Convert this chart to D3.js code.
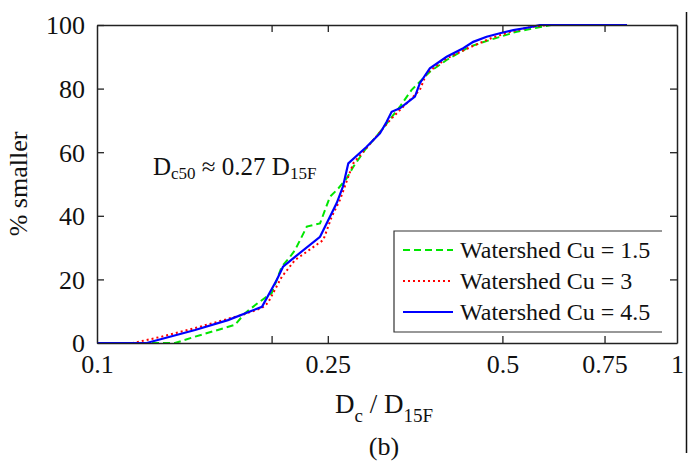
<!DOCTYPE html>
<html>
<head>
<meta charset="utf-8">
<script src="https://cdn.jsdelivr.net/npm/d3@7"></script>
<style>
  body { margin: 0; background: #fff; }
  svg { display: block; font-family: "Liberation Serif", "Times New Roman", serif; }
</style>
</head>
<body>
<div class="chart"></div>
<script>
// Size of the picture
let width = 699;
let height = 465;

// Plot box in pixels
let margin = { top: 25, right: 22, bottom: 122, left: 97 };

// Data: [Dc/D15F, % smaller]
const cu15 = [
    [0.1, 0], [0.1363, 0], [0.1476, 2], [0.1729, 5.7], [0.18, 9.4], [0.1895, 12.6],
    [0.2001, 15.7], [0.2082, 24], [0.2152, 27.1], [0.2195, 29.2], [0.23, 36.6],
    [0.2424, 37.6], [0.2522, 46], [0.2606, 48.6], [0.2695, 51.8], [0.2766, 55.4],
    [0.2897, 60.7], [0.3096, 67], [0.3328, 74.3], [0.3487, 79.6], [0.3749, 85.3],
    [0.4007, 89], [0.4395, 93.2], [0.4759, 95.3], [0.5292, 97.9], [0.6065, 100], [0.82, 100]
];
const cu3 = [
    [0.1, 0], [0.1154, 0], [0.1293, 2], [0.1476, 4.7], [0.1776, 8.8], [0.1925, 11],
    [0.1971, 12.6], [0.2082, 20.8], [0.2195, 26.1], [0.2456, 32.4], [0.2539, 39.7],
    [0.2624, 45], [0.2712, 52.3], [0.2766, 56.5], [0.2991, 63.7], [0.32, 70.1],
    [0.3603, 79.6], [0.37, 84.8], [0.4007, 89.5], [0.44, 93], [0.48, 96], [0.52, 98],
    [0.56, 99.4], [0.6, 100], [0.82, 100]
];
const cu45 = [
    [0.1, 0], [0.1218, 0], [0.1476, 4.1], [0.1682, 7.2], [0.1925, 11.4], [0.2041, 19.8],
    [0.2093, 24], [0.2195, 27.1], [0.2424, 33.4], [0.259, 44], [0.2655, 49.2],
    [0.2712, 56.5], [0.2917, 61.7], [0.3075, 65.9], [0.3158, 69.6], [0.3221, 72.7],
    [0.3328, 73.8], [0.3533, 77.5], [0.3603, 81.7], [0.3749, 86.4], [0.4007, 90],
    [0.428, 92.7], [0.4453, 94.7], [0.4697, 96.3], [0.4951, 97.4], [0.5222, 98.4],
    [0.5579, 99.3], [0.58, 100], [0.82, 100]
];

// Tick values and labels
const xTicks = [0.1, 0.2, 0.25, 0.5, 0.75, 1];
const xTickLabels = ["0.1", "", "0.25", "0.5", "0.75", "1"];
const yTicks = [0, 20, 40, 60, 80, 100];
const legendLabels = ["Watershed Cu = 1.5", "Watershed Cu = 3", "Watershed Cu = 4.5"];

let series = [
    { data: cu15, color: "#00e600", dash: "7,4", width: 2 },
    { data: cu3, color: "#ff0000", dash: "2,3", width: 2 },
    { data: cu45, color: "#0000ff", dash: null, width: 2.2 }
];

let svg = d3.select(".chart").append("svg")
    .attr("width", width)
    .attr("height", height);

let plotW = width - margin.left - margin.right;
let plotH = height - margin.top - margin.bottom;

// Log scale on x, linear on y
const xScale = d3.scaleLog().domain([0.1, 1]).range([0, plotW]);
const yScale = d3.scaleLinear().domain([0, 100]).range([plotH, 0]);

let g = svg.append("g")
    .attr("transform", `translate(${margin.left}, ${margin.top})`);

// Curves
let line = d3.line()
    .x(d => xScale(d[0]))
    .y(d => yScale(d[1]));

series.forEach(s => {
    g.append("path")
        .datum(s.data)
        .attr("fill", "none")
        .attr("stroke", s.color)
        .attr("stroke-width", s.width)
        .attr("stroke-dasharray", s.dash)
        .attr("d", line);
});

// Axes with ticks pointing inwards
let bottomAxis = g.append("g")
    .attr("transform", `translate(0, ${plotH})`)
    .call(d3.axisBottom(xScale).tickValues(xTicks)
        .tickFormat((d, i) => xTickLabels[i])
        .tickSizeInner(-7).tickSizeOuter(0).tickPadding(12));

let topAxis = g.append("g")
    .call(d3.axisTop(xScale).tickValues(xTicks)
        .tickFormat("").tickSizeInner(-7).tickSizeOuter(0));

let leftAxis = g.append("g")
    .call(d3.axisLeft(yScale).tickValues(yTicks)
        .tickSizeInner(-7).tickSizeOuter(0).tickPadding(12));

let rightAxis = g.append("g")
    .attr("transform", `translate(${plotW}, 0)`)
    .call(d3.axisRight(yScale).tickValues(yTicks)
        .tickFormat("").tickSizeInner(-7).tickSizeOuter(0));

[bottomAxis, topAxis, leftAxis, rightAxis].forEach(a => {
    a.select(".domain").attr("stroke", "#222").attr("stroke-width", 1.5);
    a.selectAll(".tick line").attr("stroke", "#222").attr("stroke-width", 1.3);
    a.selectAll("text")
        .attr("fill", "#111")
        .style("font-family", "'Liberation Serif', 'Times New Roman', serif")
        .style("font-size", "26px");
});

// Drop the end-ticks that sit on the box edges
bottomAxis.selectAll(".tick line").filter(d => d === 0.1 || d === 1).remove();
topAxis.selectAll(".tick line").filter(d => d === 0.1 || d === 1).remove();
leftAxis.selectAll(".tick line").filter(d => d === 0).remove();
rightAxis.selectAll(".tick line").filter(d => d === 0).remove();
leftAxis.selectAll("text").attr("dy", "0.34em");

// Y axis title
svg.append("text")
    .attr("transform", "translate(27, 184) rotate(-90)")
    .attr("text-anchor", "middle")
    .style("font-size", "26px")
    .attr("fill", "#111")
    .text("% smaller");

// X axis title with subscripts
let xTitle = svg.append("text")
    .attr("x", 384)
    .attr("y", 413)
    .attr("text-anchor", "middle")
    .style("font-size", "27px")
    .attr("fill", "#111");
xTitle.append("tspan").text("D");
xTitle.append("tspan").attr("dy", 9).style("font-size", "19px").text("c");
xTitle.append("tspan").attr("dy", -9).text(" / D");
xTitle.append("tspan").attr("dy", 9).style("font-size", "19px").text("15F");

// Panel letter
svg.append("text")
    .attr("x", 384)
    .attr("y", 455)
    .attr("text-anchor", "middle")
    .style("font-size", "26px")
    .attr("fill", "#111")
    .text("(b)");

// Annotation
let note = svg.append("text")
    .attr("x", 153)
    .attr("y", 175)
    .style("font-size", "25px")
    .attr("fill", "#111");
note.append("tspan").text("D");
note.append("tspan").attr("dy", 4).style("font-size", "17px").text("c50");
note.append("tspan").attr("dy", -4).text(" \u2248 0.27 D");
note.append("tspan").attr("dy", 4).style("font-size", "17px").text("15F");

// Legend
let legend = svg.append("g");
legend.append("path")
    .attr("d", "M662,231 L394,231 L394,332 L662,332")
    .attr("fill", "none")
    .attr("stroke", "#333")
    .attr("stroke-width", 1.2);

legendLabels.forEach((label, i) => {
    let y = 250 + i * 31;
    legend.append("line")
        .attr("x1", 403).attr("x2", 453)
        .attr("y1", y).attr("y2", y)
        .attr("stroke", series[i].color)
        .attr("stroke-width", series[i].width)
        .attr("stroke-dasharray", series[i].dash);
    legend.append("text")
        .attr("x", 460)
        .attr("y", y + 8)
        .style("font-size", "24px")
        .attr("fill", "#111")
        .text(label);
});

// Frame line on the far right of the picture
svg.append("line")
    .attr("x1", 686.5).attr("x2", 686.5)
    .attr("y1", 12).attr("y2", 453)
    .attr("stroke", "#111")
    .attr("stroke-width", 1.5);
</script>
</body>
</html>
